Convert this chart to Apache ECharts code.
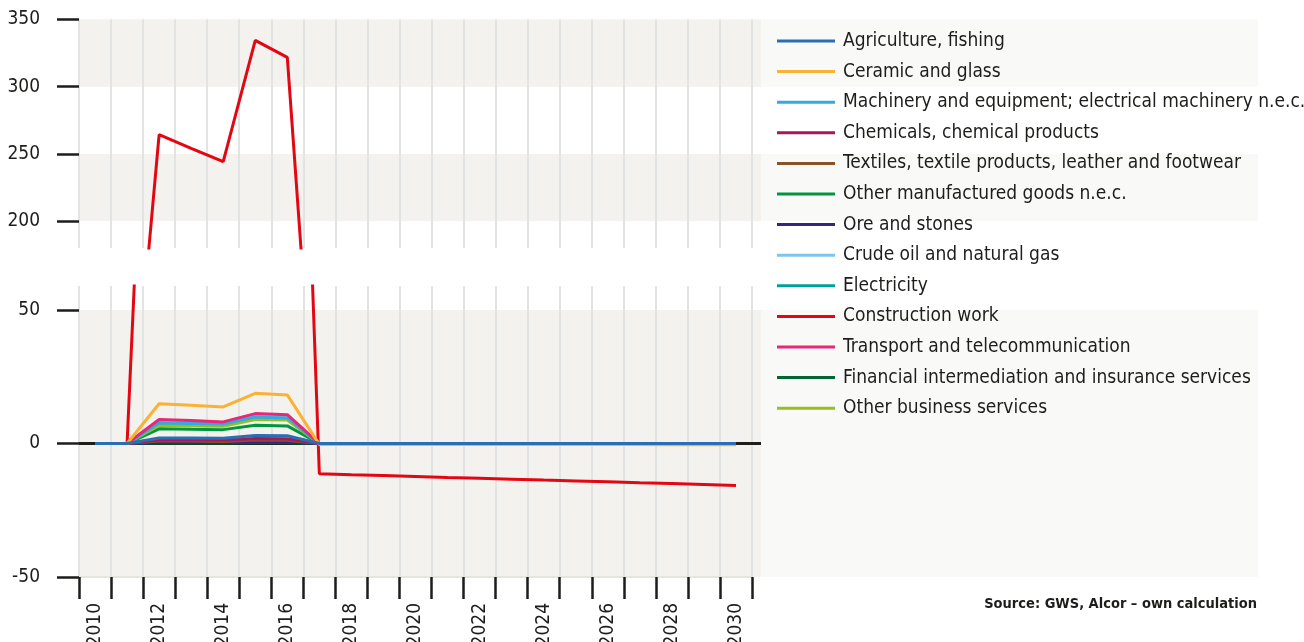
<!DOCTYPE html>
<html>
<head>
<meta charset="utf-8">
<title>Construction work and other sectors</title>
<script src="https://cdn.jsdelivr.net/npm/echarts@6/dist/echarts.min.js"></script>
<style>
	html, body { margin: 0; padding: 0; background: #fff; }
	#chart { width: 1304px; height: 642px; }
</style>
</head>
<body>
<div id="chart"></div>
<script>
var years = ["2010", "2011", "2012", "2013", "2014", "2015", "2016", "2017", "2018", "2019", "2020",
	"2021", "2022", "2023", "2024", "2025", "2026", "2027", "2028", "2029", "2030"];

var agriculture = [0, 0, 2.1, 2.1, 2.0, 3.0, 2.9, 0, 0, 0, 0, 0, 0, 0, 0, 0, 0, 0, 0, 0, 0];
var ceramic = [0, 0, 14.9, 14.3, 13.7, 18.8, 18.2, -0.4, -0.4, -0.4, -0.4, -0.4, -0.4, -0.4, -0.4, -0.4, -0.4, -0.4, -0.5, -0.5, -0.5];
var machinery = [0, 0, 7.7, 7.5, 7.3, 9.9, 9.6, 0, 0, 0, 0, 0, 0, 0, 0, 0, 0, 0, 0, 0, 0];
var chemicals = [0, 0, 1.4, 1.4, 1.3, 1.9, 1.8, 0, 0, 0, 0, 0, 0, 0, 0, 0, 0, 0, 0, 0, 0];
var textiles = [0, 0, 0.9, 0.9, 0.8, 1.3, 1.2, 0, 0, 0, 0, 0, 0, 0, 0, 0, 0, 0, 0, 0, 0];
var otherGoods = [0, 0, 5.5, 5.3, 5.2, 6.8, 6.6, 0, 0, 0, 0, 0, 0, 0, 0, 0, 0, 0, 0, 0, 0];
var ore = [0, 0, 0.4, 0.4, 0.4, 0.6, 0.6, 0, 0, 0, 0, 0, 0, 0, 0, 0, 0, 0, 0, 0, 0];
var crudeOil = [0, 0, 8.3, 8.1, 7.9, 10.5, 10.2, 0, 0, 0, 0, 0, 0, 0, 0, 0, 0, 0, 0, 0, 0];
var electricity = [0, 0, 7.2, 7.0, 6.9, 9.3, 9.1, 0, 0, 0, 0, 0, 0, 0, 0, 0, 0, 0, 0, 0, 0];
var construction = [0, 0, 264.3, 254.2, 244.2, 334.5, 321.8, -11.35, -11.7, -12.0, -12.35, -12.7, -13.0, -13.35, -13.7, -14.0, -14.35, -14.7, -15.0, -15.35, -15.7];
var transport = [0, 0, 9.0, 8.6, 8.1, 11.2, 10.8, 0, 0, 0, 0, 0, 0, 0, 0, 0, 0, 0, 0, 0, 0];
var financial = [0, 0, 0.2, 0.2, 0.2, 0.3, 0.3, 0, 0, 0, 0, 0, 0, 0, 0, 0, 0, 0, 0, 0, 0];
var business = [0, 0, 6.8, 6.6, 6.5, 9.0, 8.8, 0, 0, 0, 0, 0, 0, 0, 0, 0, 0, 0, 0, 0, 0];

var upperTicks = [200, 250, 300, 350];
var lowerTicks = [-50, 0, 50];

var FONT = "'DejaVu Sans Condensed', 'DejaVu Sans', sans-serif";
var INK = "#1d1d1b";

var ChartPage = function () { }

ChartPage.prototype = {
	init: function () {
		this.chart = echarts.init(document.getElementById("chart"));
		this.chart.setOption(this.buildOption());
	},
	// lines in drawing order (first one is drawn at the bottom)
	lines: function () {
		return [
			{ name: "Construction work", data: construction, color: "#e30613" },
			{ name: "Financial intermediation and insurance services", data: financial, color: "#006633" },
			{ name: "Ore and stones", data: ore, color: "#312783" },
			{ name: "Textiles, textile products, leather and footwear", data: textiles, color: "#8b5227" },
			{ name: "Chemicals, chemical products", data: chemicals, color: "#a3195b" },
			{ name: "Other manufactured goods n.e.c.", data: otherGoods, color: "#009640" },
			{ name: "Electricity", data: electricity, color: "#00a19a" },
			{ name: "Other business services", data: business, color: "#95c11f" },
			{ name: "Crude oil and natural gas", data: crudeOil, color: "#7fc4ec" },
			{ name: "Machinery and equipment; electrical machinery n.e.c.", data: machinery, color: "#36a9e1" },
			{ name: "Transport and telecommunication", data: transport, color: "#e6287a" },
			{ name: "Ceramic and glass", data: ceramic, color: "#f9b233" },
			{ name: "Agriculture, fishing", data: agriculture, color: "#2a6eb5" }
		];
	},
	legendNames: function () {
		return ["Agriculture, fishing", "Ceramic and glass", "Machinery and equipment; electrical machinery n.e.c.",
			"Chemicals, chemical products", "Textiles, textile products, leather and footwear",
			"Other manufactured goods n.e.c.", "Ore and stones", "Crude oil and natural gas", "Electricity",
			"Construction work", "Transport and telecommunication",
			"Financial intermediation and insurance services", "Other business services"];
	},
	bandSeries: function (idx, z, color, bands, zeroLine) {
		var s = {
			type: "line",
			xAxisIndex: idx,
			yAxisIndex: idx,
			data: [],
			silent: true,
			z: z,
			markArea: {
				silent: true,
				z: z,
				itemStyle: { color: color },
				data: bands.map(function (b) { return [{ yAxis: b[0] }, { yAxis: b[1] }]; })
			}
		};
		if (zeroLine) {
			s.markLine = {
				silent: true,
				z: z,
				symbol: "none",
				label: { show: false },
				lineStyle: { color: INK, width: 3, type: "solid" },
				data: [{ yAxis: 0 }]
			};
		}
		return s;
	},
	buildOption: function () {
		var up = { top: 19.5, height: 228.5 };
		var low = { top: 286, height: 291 };
		var grids = [
			{ left: 79, width: 673, top: up.top, height: up.height },
			{ left: 79, width: 673, top: low.top, height: low.height },
			{ left: 79, right: 46, top: up.top, height: up.height },
			{ left: 79, right: 46, top: low.top, height: low.height },
			{ left: 79, width: 682, top: up.top, height: up.height },
			{ left: 79, width: 682, top: low.top, height: low.height }
		];
		grids.forEach(function (g) { g.outerBoundsMode = "none"; g.containLabel = false; });

		var labelStyle = { color: INK, fontSize: 19, fontFamily: FONT };
		var tickStyle = { show: true, inside: false, length: 22, lineStyle: { color: INK, width: 2.5 } };
		var gridLine = { show: true, interval: 0, lineStyle: { color: "#e2e4e4", width: 2 } };

		var xAxes = [
			{
				type: "category", gridIndex: 0, data: years,
				axisLine: { show: false }, axisTick: { show: false }, axisLabel: { show: false },
				splitLine: gridLine
			},
			{
				type: "category", gridIndex: 1, data: years,
				axisLine: { show: true, onZero: false, lineStyle: { color: "#e6e6e1", width: 2 } },
				axisTick: { show: true, interval: 0, inside: false, length: 22, lineStyle: { color: INK, width: 2.5 } },
				axisLabel: { interval: 1, rotate: 90, margin: 26, color: INK, fontSize: 19, fontFamily: FONT },
				splitLine: gridLine
			}
		];
		var yAxes = [
			{
				type: "value", gridIndex: 0, min: 180, max: 350,
				axisLine: { show: false },
				axisTick: Object.assign({ customValues: upperTicks }, tickStyle),
				axisLabel: Object.assign({ customValues: upperTicks, margin: 39 }, labelStyle),
				splitLine: { show: false }
			},
			{
				type: "value", gridIndex: 1, min: -50, max: 59,
				axisLine: { show: false },
				axisTick: Object.assign({ customValues: lowerTicks }, tickStyle),
				axisLabel: Object.assign({ customValues: lowerTicks, margin: 39 }, labelStyle),
				splitLine: { show: false }
			}
		];
		// hidden axes for the background bands
		for (var g = 2; g < 6; g++) {
			var upper = g % 2 == 0;
			xAxes.push({ type: "value", gridIndex: g, min: 0, max: 1, show: false });
			yAxes.push({ type: "value", gridIndex: g, min: upper ? 180 : -50, max: upper ? 350 : 59, show: false });
		}

		var series = [
			this.bandSeries(2, -4, "#f9f9f7", [[300, 350], [200, 250]]),
			this.bandSeries(3, -4, "#f9f9f7", [[-50, 50]]),
			this.bandSeries(4, -3, "#f3f2ee", [[300, 350], [200, 250]]),
			this.bandSeries(5, -3, "#f3f2ee", [[-50, 50]]),
			this.bandSeries(5, 1, "transparent", [], true)
		];
		this.lines().forEach(function (line) {
			series.push({
				name: line.name,
				type: "line",
				xAxisIndex: 1,
				yAxisIndex: 1,
				data: line.data,
				symbol: "none",
				color: line.color,
				lineStyle: { width: 3, color: line.color },
				z: 2
			});
		});
		series.push({
			name: "Construction work",
			type: "line",
			xAxisIndex: 0,
			yAxisIndex: 0,
			data: construction,
			symbol: "none",
			color: "#e30613",
			lineStyle: { width: 3, color: "#e30613" },
			z: 2
		});

		return {
			animation: false,
			textStyle: { fontFamily: FONT },
			title: {
				text: "Source: GWS, Alcor \u2013 own calculation",
				right: 47,
				top: 597,
				padding: 0,
				textStyle: { color: INK, fontSize: 14.5, fontWeight: "bold", fontFamily: FONT }
			},
			legend: {
				data: this.legendNames(),
				orient: "vertical",
				left: 777,
				top: 31,
				padding: 0,
				icon: "rect",
				itemWidth: 58,
				itemHeight: 3,
				itemGap: 10.6,
				selectedMode: false,
				textStyle: { color: INK, fontSize: 19, fontFamily: FONT, lineHeight: 20, padding: [0, 0, 0, 3] }
			},
			grid: grids,
			xAxis: xAxes,
			yAxis: yAxes,
			series: series
		};
	}
}

window.onload = function () {
	var page = new ChartPage();
	page.init();
}
</script>
</body>
</html>
